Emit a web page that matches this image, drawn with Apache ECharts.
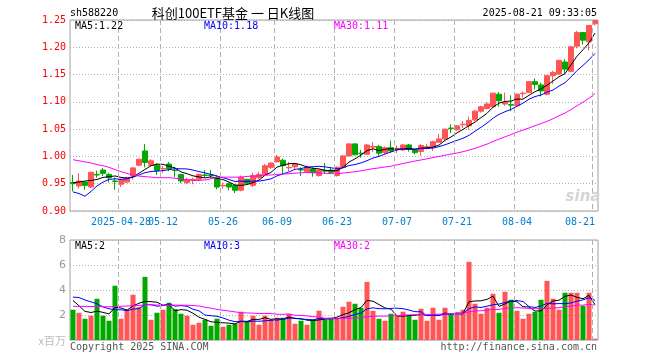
<!DOCTYPE html>
<html><head><meta charset="utf-8">
<script src="https://cdn.jsdelivr.net/npm/echarts/dist/echarts.min.js"></script>
<style>html,body{margin:0;padding:0;background:#fff}#c{width:660px;height:360px}</style>
</head><body><div id="c"></div><script>
const dates = [
'2025-04-16','2025-04-17','2025-04-18','2025-04-21','2025-04-22','2025-04-23','2025-04-24','2025-04-25','2025-04-28','2025-04-29','2025-04-30',
'2025-05-06','2025-05-07','2025-05-08','2025-05-09','2025-05-12','2025-05-13','2025-05-14','2025-05-15','2025-05-16',
'2025-05-19','2025-05-20','2025-05-21','2025-05-22','2025-05-23','2025-05-26','2025-05-27','2025-05-28','2025-05-29','2025-05-30',
'2025-06-03','2025-06-04','2025-06-05','2025-06-06','2025-06-09','2025-06-10','2025-06-11','2025-06-12','2025-06-13',
'2025-06-16','2025-06-17','2025-06-18','2025-06-19','2025-06-20','2025-06-23','2025-06-24','2025-06-25','2025-06-26','2025-06-27','2025-06-30',
'2025-07-01','2025-07-02','2025-07-03','2025-07-04','2025-07-07','2025-07-08','2025-07-09','2025-07-10','2025-07-11',
'2025-07-14','2025-07-15','2025-07-16','2025-07-17','2025-07-18','2025-07-21','2025-07-22','2025-07-23','2025-07-24','2025-07-25',
'2025-07-28','2025-07-29','2025-07-30','2025-07-31','2025-08-01','2025-08-04','2025-08-05','2025-08-06','2025-08-07','2025-08-08',
'2025-08-11','2025-08-12','2025-08-13','2025-08-14','2025-08-15','2025-08-18','2025-08-19','2025-08-20','2025-08-21'];

const opens = [0.952,0.946,0.953,0.944,0.967,0.975,0.967,0.955,0.949,0.953,0.964,0.984,1.010,0.984,0.984,0.977,0.986,0.975,0.967,0.952,
0.957,0.958,0.966,0.966,0.962,0.946,0.950,0.947,0.938,0.958,0.947,0.961,0.967,0.980,0.990,0.993,0.979,0.981,0.976,0.972,
0.977,0.965,0.974,0.975,0.965,0.980,1.001,1.023,1.006,1.004,1.017,1.018,1.007,1.016,1.014,1.012,1.021,1.012,1.009,1.017,
1.018,1.026,1.032,1.052,1.049,1.058,1.056,1.067,1.083,1.088,1.091,1.114,1.096,1.095,1.093,1.115,1.117,1.137,1.131,1.114,
1.148,1.151,1.173,1.156,1.202,1.227,1.210,1.243];
const closes = [0.950,0.955,0.947,0.971,0.966,0.969,0.961,0.954,0.958,0.960,0.979,0.995,0.989,0.992,0.974,0.978,0.977,0.974,0.955,0.958,
0.958,0.967,0.965,0.965,0.944,0.947,0.944,0.938,0.962,0.951,0.965,0.967,0.983,0.988,0.999,0.983,0.980,0.986,0.975,0.980,
0.970,0.975,0.973,0.971,0.980,1.001,1.023,1.003,1.005,1.021,1.018,1.006,1.016,1.010,1.015,1.021,1.013,1.007,1.020,1.018,
1.027,1.032,1.050,1.051,1.056,1.059,1.066,1.083,1.091,1.096,1.116,1.102,1.099,1.094,1.114,1.116,1.137,1.132,1.120,1.148,
1.154,1.176,1.160,1.201,1.227,1.213,1.240,1.249];
const lows = [0.936,0.941,0.939,0.942,0.961,0.964,0.952,0.939,0.944,0.951,0.958,0.982,0.980,0.982,0.966,0.970,0.973,0.962,0.951,0.949,
0.949,0.955,0.961,0.960,0.940,0.941,0.938,0.933,0.936,0.949,0.944,0.958,0.965,0.977,0.989,0.967,0.973,0.977,0.964,0.970,
0.963,0.963,0.968,0.968,0.963,0.978,1.000,1.002,0.998,1.003,1.008,1.000,1.004,1.007,1.006,1.010,1.009,1.004,1.001,1.013,
1.010,1.026,1.029,1.043,1.047,1.052,1.049,1.065,1.080,1.086,1.090,1.091,1.093,1.083,1.091,1.108,1.116,1.123,1.110,1.112,
1.133,1.149,1.151,1.154,1.198,1.205,1.194,1.240];
const highs = [0.966,0.969,0.953,0.972,0.974,0.979,0.970,0.961,0.959,0.963,0.980,0.996,1.023,0.995,0.988,0.983,0.990,0.980,0.968,0.961,
0.961,0.969,0.975,0.975,0.965,0.952,0.952,0.949,0.965,0.959,0.970,0.972,0.986,0.989,1.003,0.996,0.990,0.988,0.980,0.983,
0.980,0.977,0.988,0.980,0.982,1.003,1.024,1.024,1.012,1.023,1.026,1.021,1.018,1.029,1.020,1.023,1.023,1.013,1.023,1.023,
1.029,1.041,1.051,1.059,1.057,1.065,1.073,1.085,1.093,1.099,1.117,1.118,1.117,1.112,1.115,1.119,1.138,1.143,1.135,1.149,
1.157,1.177,1.178,1.202,1.230,1.228,1.241,1.249];

// volume, x 1,000,000
const volumes = [2.42,2.18,1.70,1.94,3.30,1.94,1.54,4.34,1.70,2.42,3.62,2.63,5.05,1.62,2.18,2.42,2.98,2.47,2.10,1.94,
1.22,1.38,1.62,1.14,1.70,1.06,1.22,1.30,2.26,1.54,1.94,1.22,1.94,1.62,1.78,1.78,2.10,1.30,1.54,1.22,
1.62,2.34,1.62,1.78,1.76,2.66,3.06,2.90,2.58,4.65,2.34,1.70,1.54,2.10,1.94,2.26,1.94,1.62,2.50,1.54,
2.58,1.62,2.58,2.02,2.02,2.42,6.25,2.90,2.10,2.58,3.70,2.18,3.86,3.22,2.34,1.70,2.10,2.26,3.22,4.73,
3.30,2.42,3.78,3.78,3.78,2.74,3.78,0.10];

// moving-average values read from the picture where earlier history is not on the chart
const ma5Head = [0.952,0.953,0.955,0.956];
const ma10Head = [0.935,0.932,0.927,0.936,0.946,0.953,0.958,0.959,0.958];
const ma30Head = [0.994,0.992,0.990,0.988,0.985,0.983,0.980,0.976,0.972,0.969,0.966,0.964,0.963,0.962,0.961,0.961,0.961,0.960,0.959,0.957,0.956,0.956,0.957,0.959,0.962,0.962,0.962,0.962,0.962];
const vma5Head = [3.16,2.74,2.29,2.20];
const vma10Head = [3.43,3.40,3.20,3.05,2.90,2.65,2.50,2.42,2.42];
const vma30Head = [2.69,2.69,2.69,2.68,2.67,2.66,2.66,2.67,2.70,2.72,2.74,2.76,2.82,2.82,2.80,2.79,2.79,2.79,2.79,2.78,2.76,2.72,2.62,2.55,2.45,2.38,2.32,2.25,2.18];

const labelIdx = [8,15,25,34,44,54,64,74,87];
const priceMin = 0.90, priceMax = 1.25, priceStep = 0.05;
const volMin = 0, volMax = 8, volStep = 2;

const legendPrice = ['MA5:1.22','MA10:1.18','MA30:1.11'];
const legendVol = ['MA5:2','MA10:3','MA30:2'];

function ma(src, n, head){
  return src.map((v,i)=>{
    if(i < n-1) return head[i];
    let s=0; for(let k=i-n+1;k<=i;k++) s+=src[k];
    return +(s/n).toFixed(4);
  });
}
const RED='#ff5555', GREEN='#00a800', GRIDC='#b0b0b0';
const candles = dates.map((d,i)=>[opens[i],closes[i],lows[i],highs[i]]);
const volData = volumes.map((v,i)=>({value:v,itemStyle:{color: closes[i]>=opens[i]?RED:GREEN}}));

const MONO='"DejaVu Sans Mono", monospace';
const grid = [
  {left:70, top:20, width:528, height:191, show:true, borderColor:'#a0a0a0', borderWidth:1},
  {left:70, top:240, width:528, height:100, show:true, borderColor:'#a0a0a0', borderWidth:1}
];
function txt(x,y,text,fill,align,font){
  return {type:'text', x:x, y:y, silent:true, z:100, style:{text:text, fill:fill, align:align||'left', verticalAlign:'middle', font:font||('10px '+MONO)}};
}
// dashed vertical date lines at the left boundary of each labelled day,
// positioned through the category axis (centre minus half a band)
function dateLines(xi, yi, yv){
  return {type:'custom', xAxisIndex:xi, yAxisIndex:yi, z:5,
    data: labelIdx.map(i=>[i, yv]),
    renderItem:function(params, api){
      const cs = params.coordSys;
      const c = api.coord([api.value(0), yv]);
      const band = api.size([1, 0])[0];
      const x = Math.round(c[0] - band/2) + 0.5;
      const children = [];
      for(let y = cs.y; y < cs.y + cs.height; y += 8){
        children.push({type:'line', shape:{x1:x, y1:y, x2:x, y2:Math.min(y+5, cs.y+cs.height)},
          style:{stroke:GRIDC, lineWidth:1}});
      }
      return {type:'group', children:children};
    }};
}
const xLabelBase = {fontFamily:MONO, fontSize:10, margin:6, color:'#0080cc'};

const option = {
  animation:false,
  grid: grid,
  xAxis:[
    {type:'category', gridIndex:0, data:dates, boundaryGap:true, position:'bottom',
     axisLine:{show:false}, axisTick:{show:false},
     axisLabel:Object.assign({show:true, interval:(i)=>labelIdx.indexOf(i)>0, alignMaxLabel:'right',
       formatter:(v)=> v.slice(5)}, xLabelBase),
     splitLine:{show:false}},
    {type:'category', gridIndex:1, data:dates, boundaryGap:true,
     axisLine:{show:false}, axisTick:{show:false}, axisLabel:{show:false}, splitLine:{show:false}},
    {type:'category', gridIndex:0, data:dates, boundaryGap:true, position:'bottom', offset:0,
     axisLine:{show:false}, axisTick:{show:false},
     axisLabel:Object.assign({show:true, interval:(i)=>i===labelIdx[0], showMinLabel:true, formatter:(v)=>v}, xLabelBase),
     splitLine:{show:false}}
  ],
  yAxis:[
    {type:'value', gridIndex:0, min:priceMin, max:priceMax, interval:priceStep,
     axisLine:{show:false}, axisTick:{show:false},
     axisLabel:{color:'#ff0000', fontFamily:MONO, fontSize:10, margin:4, formatter:(v)=>v.toFixed(2)},
     splitLine:{show:true, lineStyle:{color:GRIDC, type:[1,2], width:1}}},
    {type:'value', gridIndex:1, min:volMin, max:volMax, interval:volStep,
     axisLine:{show:false}, axisTick:{show:false},
     axisLabel:{color:'#999', fontFamily:'"DejaVu Sans", sans-serif', fontSize:11, margin:4, formatter:(v)=> v===0?'':String(v)},
     splitLine:{show:true, lineStyle:{color:GRIDC, type:[1,2], width:1}}}
  ],
  series:[
    {type:'candlestick', xAxisIndex:0, yAxisIndex:0, data:candles, barWidth:5, silent:true, z:3,
     itemStyle:{color:RED, color0:GREEN, borderColor:RED, borderColor0:GREEN, borderWidth:1}},
    {type:'line', xAxisIndex:0, yAxisIndex:0, data:ma(closes,5,ma5Head), symbol:'none', silent:true, z:4, lineStyle:{color:'#000', width:1}},
    {type:'line', xAxisIndex:0, yAxisIndex:0, data:ma(closes,10,ma10Head), symbol:'none', silent:true, z:4, lineStyle:{color:'#0000ff', width:1}},
    {type:'line', xAxisIndex:0, yAxisIndex:0, data:ma(closes,30,ma30Head), symbol:'none', silent:true, z:4, lineStyle:{color:'#ff00ff', width:1}},
    {type:'bar', xAxisIndex:1, yAxisIndex:1, data:volData, barWidth:5, silent:true, z:3},
    {type:'line', xAxisIndex:1, yAxisIndex:1, data:ma(volumes,5,vma5Head), symbol:'none', silent:true, z:4, lineStyle:{color:'#000', width:1}},
    {type:'line', xAxisIndex:1, yAxisIndex:1, data:ma(volumes,10,vma10Head), symbol:'none', silent:true, z:4, lineStyle:{color:'#0000ff', width:1}},
    {type:'line', xAxisIndex:1, yAxisIndex:1, data:ma(volumes,30,vma30Head), symbol:'none', silent:true, z:4, lineStyle:{color:'#ff00ff', width:1}},
    dateLines(0,0,priceMin),
    dateLines(1,1,volMin)
  ],
  graphic:[
    txt(70,13,'sh588220','#000'),
    txt(233,13,'科创100ETF基金 一 日K线图','#000','center','13px "Noto Sans CJK SC", sans-serif'),
    txt(597,13,'2025-08-21 09:33:05','#000','right'),
    txt(75,26,legendPrice[0],'#000'),
    txt(204,26,legendPrice[1],'#0000ff'),
    txt(334,26,legendPrice[2],'#ff00ff'),
    txt(75,246,legendVol[0],'#000'),
    txt(204,246,legendVol[1],'#0000ff'),
    txt(334,246,legendVol[2],'#ff00ff'),
    txt(66,341,'x百万','#bbbbbb','right','11px "Noto Sans CJK SC", sans-serif'),
    txt(70,347,'Copyright 2025 SINA.COM','#555'),
    txt(597,347,'http://finance.sina.com.cn','#555','right'),
    txt(583,197,'sina','#d4d4d4','center','italic bold 15px "DejaVu Sans", sans-serif')
  ]
};
const chart = echarts.init(document.getElementById('c'), null, {renderer:'canvas'});
chart.setOption(option);
</script></body></html>
